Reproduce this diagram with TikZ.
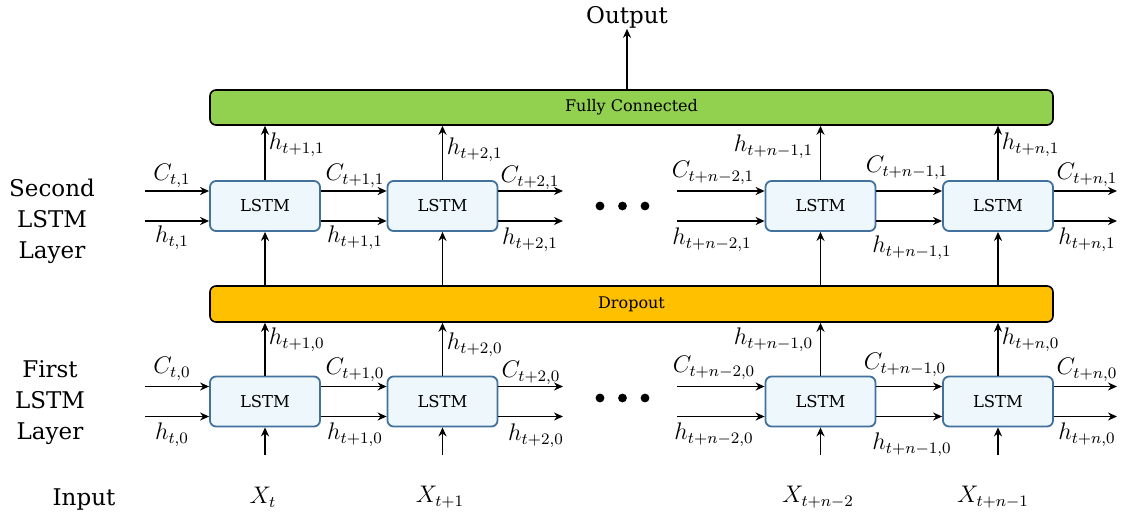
\documentclass[tikz,border=0pt]{standalone}
\usepackage[no-math]{fontspec}
\setmainfont{DejaVu Serif}
\usepackage{tikz}
\usetikzlibrary{arrows.meta}
\usetikzlibrary{calc}

\definecolor{fcgreen}{RGB}{146,208,80}
\definecolor{dropgold}{RGB}{255,192,0}
\definecolor{cellfill}{RGB}{238,247,251}
\definecolor{celledge}{RGB}{65,113,156}

\begin{document}
\begin{tikzpicture}[x=0.5pt, y=-0.5pt, >={Stealth[length=4.5pt,width=4pt]}, line width=0.9pt,
    cell/.style={draw=celledge, fill=cellfill, rounded corners=3pt, minimum width=55pt, minimum height=25pt, inner sep=0, font=\fontsize{8.2}{10}\selectfont},
    bar/.style={draw, line width=0.8pt, rounded corners=3pt, minimum width=421.5pt, minimum height=17.5pt, inner sep=0, font=\fontsize{8}{10}\selectfont},
    lbl/.style={inner sep=0, font=\fontsize{12}{12}\selectfont},
    side/.style={align=center, inner sep=0, font=\fontsize{11.5}{15.5}\selectfont}]
    \useasboundingbox (0,0) rectangle (1124,519);

    \node[bar, fill=fcgreen] (fc) at (631.5,107.5) {Fully Connected};
    \node[bar, fill=dropgold, minimum height=18pt] (drop) at (631.5,304) {Dropout};
    \node[side] (out) at (627,17) {Output};
    \draw[->] (fc.north -| out) -- (out.south);

    \node[side] (lay1) at (52,221) {Second\\LSTM\\Layer};
    \node[side] (lay0) at (50,403) {First\\LSTM\\Layer};
    \node[side] (inp) at (84,500) {Input};

    % LSTM cells, second row (1) and first row (0)
    \node[cell] (a1) at (265,206) {LSTM};
    \node[cell] (b1) at (442.5,206) {LSTM};
    \node[cell] (c1) at (820.5,206) {LSTM};
    \node[cell] (d1) at (998,206) {LSTM};
    \node[cell] (a0) at (265,401.5) {LSTM};
    \node[cell] (b0) at (442.5,401.5) {LSTM};
    \node[cell] (c0) at (820.5,401.5) {LSTM};
    \node[cell] (d0) at (998,401.5) {LSTM};

    \coordinate (s1) at (145,206);
    \coordinate (m1) at (563,206);
    \coordinate (n1) at (677,206);
    \coordinate (e1) at (1117,206);
    \coordinate (s0) at (145,401.5);
    \coordinate (m0) at (563,401.5);
    \coordinate (n0) at (677,401.5);
    \coordinate (e0) at (1117,401.5);
    \coordinate (ia) at (265,455);
    \coordinate (ib) at (442.5,455);
    \coordinate (ic) at (820.5,455);
    \coordinate (id) at (998,455);

    \foreach \r in {0,1}
        \foreach \sh in {7.5pt,-7.5pt} {
            \draw[->] ([yshift=\sh]s\r) -- ([yshift=\sh]a\r.west);
            \draw[->] ([yshift=\sh]a\r.east) -- ([yshift=\sh]b\r.west);
            \draw[->] ([yshift=\sh]b\r.east) -- ([yshift=\sh]m\r);
            \draw[->] ([yshift=\sh]n\r) -- ([yshift=\sh]c\r.west);
            \draw[->] ([yshift=\sh]c\r.east) -- ([yshift=\sh]d\r.west);
            \draw[->] ([yshift=\sh]d\r.east) -- ([yshift=\sh]e\r);
        }

    \foreach \k in {a,b,c,d} {
        \draw[->] (\k1.north) -- (\k1.north |- fc.south);
        \draw[->] (drop.north -| \k1) -- (\k1.south);
        \draw[->] (\k0.north) -- (\k0.north |- drop.south);
        \draw[->] (i\k) -- (\k0.south);
    }

    \foreach \yy in {206,398}
        \foreach \x in {600,622.5,645}
            \fill (\x,\yy) circle (2.2pt);

    % second layer labels
    \node[lbl] (ca1) at (172,176) {$C_{t,1}$};
    \node[lbl] (ha1) at (172,238) {$h_{t,1}$};
    \node[lbl] (cb1) at (355,176) {$C_{t+1,1}$};
    \node[lbl] (hb1) at (355,238) {$h_{t+1,1}$};
    \node[lbl] (cc1) at (530,178) {$C_{t+2,1}$};
    \node[lbl] (hc1) at (530,240) {$h_{t+2,1}$};
    \node[lbl] (cd1) at (713,173) {$C_{t+n-2,1}$};
    \node[lbl] (hd1) at (712,240) {$h_{t+n-2,1}$};
    \node[lbl] (ce1) at (907,168) {$C_{t+n-1,1}$};
    \node[lbl] (he1) at (912,248) {$h_{t+n-1,1}$};
    \node[lbl] (cf1) at (1087,175) {$C_{t+n,1}$};
    \node[lbl] (hf1) at (1087,240) {$h_{t+n,1}$};
    \node[lbl, anchor=west] (ua1) at (268,145) {$h_{t+1,1}$};
    \node[lbl, anchor=west] (ub1) at (446,150) {$h_{t+2,1}$};
    \node[lbl, anchor=east] (uc1) at (814,147) {$h_{t+n-1,1}$};
    \node[lbl, anchor=west] (ud1) at (1001,145) {$h_{t+n,1}$};

    % first layer labels
    \node[lbl] (ca0) at (172,369) {$C_{t,0}$};
    \node[lbl] (ha0) at (172,435) {$h_{t,0}$};
    \node[lbl] (cb0) at (355,370) {$C_{t+1,0}$};
    \node[lbl] (hb0) at (355,435) {$h_{t+1,0}$};
    \node[lbl] (cc0) at (531,373) {$C_{t+2,0}$};
    \node[lbl] (hc0) at (536,436) {$h_{t+2,0}$};
    \node[lbl] (cd0) at (714,368) {$C_{t+n-2,0}$};
    \node[lbl] (hd0) at (714,435) {$h_{t+n-2,0}$};
    \node[lbl] (ce0) at (905,365) {$C_{t+n-1,0}$};
    \node[lbl] (he0) at (912,445) {$h_{t+n-1,0}$};
    \node[lbl] (cf0) at (1087,370) {$C_{t+n,0}$};
    \node[lbl] (hf0) at (1087,435) {$h_{t+n,0}$};
    \node[lbl, anchor=west] (ua0) at (268,340) {$h_{t+1,0}$};
    \node[lbl, anchor=west] (ub0) at (446,345) {$h_{t+2,0}$};
    \node[lbl, anchor=east] (uc0) at (814,340) {$h_{t+n-1,0}$};
    \node[lbl, anchor=west] (ud0) at (1001,340) {$h_{t+n,0}$};

    % inputs
    \node[lbl] (xa) at (263,497) {$X_t$};
    \node[lbl] (xb) at (440,497) {$X_{t+1}$};
    \node[lbl] (xc) at (818,497) {$X_{t+n-2}$};
    \node[lbl] (xd) at (993,497) {$X_{t+n-1}$};
\end{tikzpicture}
\end{document}
